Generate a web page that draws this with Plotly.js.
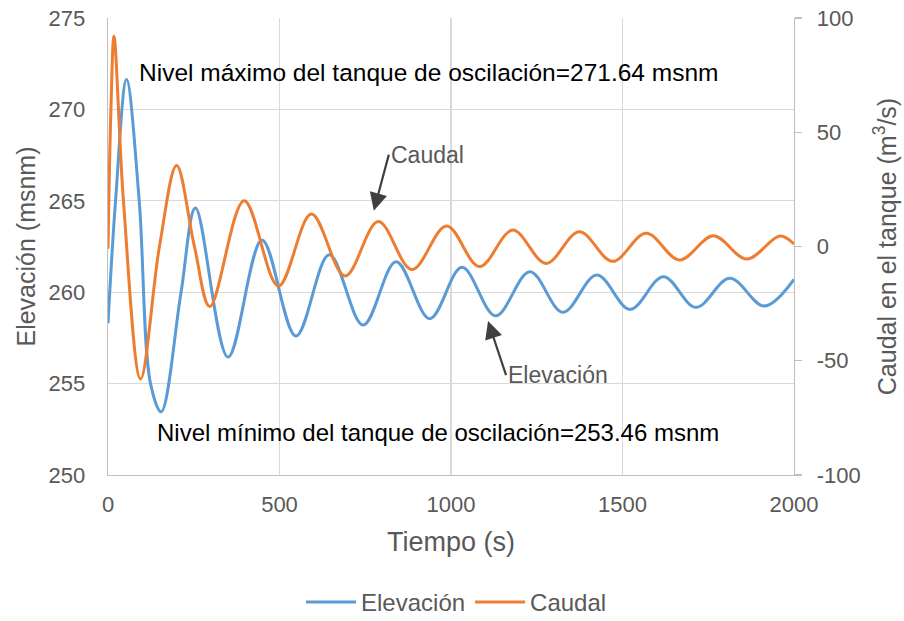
<!DOCTYPE html>
<html>
<head>
<meta charset="utf-8">
<script src="https://cdn.plot.ly/plotly-3.0.1.min.js"></script>
<style>
  html, body { margin: 0; padding: 0; background: #ffffff; }
  #chart { width: 904px; height: 621px; }
</style>
</head>
<body>
<div id="chart"></div>
<script>
// Elevación (msnm) (extrema and a few crossings)
const tiempoElev = [0, 22, 54, 91, 124, 155, 213, 255, 350, 449, 548, 645, 744, 840, 938, 1032, 1130, 1230, 1326, 1425, 1522, 1619, 1714, 1813, 1913, 2000];
const elevacion  = [258.3, 265, 271.64, 265, 255, 253.46, 260, 264.6, 256.45, 262.85, 257.6, 262.05, 258.2, 261.67, 258.55, 261.36, 258.71, 261.12, 258.9, 260.94, 259.06, 260.85, 259.17, 260.76, 259.24, 260.7];

// Caudal en el tanque (m3/s)
const tiempoCaudal = [0, 8.5, 17.5, 45, 95, 150, 200, 252, 297, 397, 497, 593, 691, 788, 886, 987, 1083, 1180, 1277, 1374, 1471, 1569, 1666, 1765, 1862, 1959, 2000];
const caudal       = [-1, 60, 92, 20, -58, 0, 35.4, 0, -26.3, 20, -17.3, 14.2, -12.9, 10.9, -10.1, 9.0, -8.8, 7.2, -7.4, 6.5, -6.5, 5.8, -5.9, 4.7, -5.5, 4.6, 1.1];

const xTicks = [0, 500, 1000, 1500, 2000];
const yTicks = [250, 255, 260, 265, 270, 275];
const y2Ticks = [-100, -50, 0, 50, 100];

const FONT = '"Liberation Sans", Arial, sans-serif';
const GREY = '#595959';

const traces = [
  {
    x: tiempoElev, y: elevacion, name: 'Elevación', type: 'scatter', mode: 'lines',
    line: { color: '#5B9BD5', width: 3, shape: 'spline', smoothing: 1 },
    yaxis: 'y'
  },
  {
    x: tiempoCaudal, y: caudal, name: 'Caudal', type: 'scatter', mode: 'lines',
    line: { color: '#ED7D31', width: 3, shape: 'spline', smoothing: 1 },
    yaxis: 'y2'
  }
];

const layout = {
  width: 904, height: 621,
  margin: { l: 108, r: 110, t: 18, b: 146, autoexpand: false },
  paper_bgcolor: '#ffffff', plot_bgcolor: '#ffffff',
  font: { family: FONT, color: GREY },
  showlegend: true,
  legend: {
    orientation: 'h', xref: 'container', yref: 'container',
    x: 0.505, xanchor: 'center', y: 0.03, yanchor: 'middle',
    itemwidth: 50, tracegroupgap: 0,
    font: { family: FONT, size: 24, color: GREY }
  },
  xaxis: {
    range: [0, 2000], tickvals: xTicks, ticktext: xTicks.map(String),
    showgrid: true, gridcolor: '#d9d9d9', gridwidth: 1.3,
    showline: true, linecolor: '#bfbfbf', linewidth: 1.3,
    zeroline: false, ticks: '', ticklabelstandoff: 9, automargin: false,
    tickfont: { family: FONT, size: 22, color: GREY },
    title: { text: 'Tiempo (s)', font: { family: FONT, size: 27, color: GREY }, standoff: 16 }
  },
  yaxis: {
    range: [250, 275], tickvals: yTicks, ticktext: yTicks.map(String),
    showgrid: true, gridcolor: '#d9d9d9', gridwidth: 1.3,
    showline: true, linecolor: '#bfbfbf', linewidth: 1.3,
    zeroline: false, ticks: '', ticklabelstandoff: 17, automargin: false,
    tickfont: { family: FONT, size: 22, color: GREY },
    title: { text: 'Elevación (msnm)', font: { family: FONT, size: 25, color: GREY }, standoff: 5 }
  },
  yaxis2: {
    range: [-100, 100], tickvals: y2Ticks, ticktext: y2Ticks.map(String),
    overlaying: 'y', side: 'right', automargin: false,
    showgrid: false, showline: true, linecolor: '#bfbfbf', linewidth: 1.3,
    zeroline: false, ticks: 'outside', ticklen: 7, tickcolor: '#bfbfbf', tickwidth: 1.3,
    ticklabelstandoff: 10,
    tickfont: { family: FONT, size: 22, color: GREY },
    title: { text: 'Caudal en el tanque (m<sup>3</sup>/s)', font: { family: FONT, size: 25, color: GREY }, standoff: 18 }
  },
  annotations: [
    {
      xref: 'x', yref: 'y', x: 85, y: 272, xanchor: 'left', yanchor: 'middle',
      text: 'Nivel máximo del tanque de oscilación=271.64 msnm', showarrow: false,
      font: { family: FONT, size: 24.5, color: '#000000' }
    },
    {
      xref: 'x', yref: 'y', x: 137, y: 252.35, xanchor: 'left', yanchor: 'middle',
      text: 'Nivel mínimo del tanque de oscilación=253.46 msnm', showarrow: false,
      font: { family: FONT, size: 24, color: '#000000' }
    },
    {
      xref: 'x', yref: 'y2', x: 775, y: 15.7, xanchor: 'left', yanchor: 'middle',
      text: 'Caudal', showarrow: true,
      ax: 15, ay: -56, arrowhead: 2, arrowsize: 1.6, arrowwidth: 2.2, arrowcolor: '#404040',
      font: { family: FONT, size: 23, color: GREY }
    },
    {
      xref: 'x', yref: 'y', x: 1108, y: 258.42, xanchor: 'left', yanchor: 'middle',
      text: 'Elevación', showarrow: true,
      ax: 18, ay: 54, arrowhead: 2, arrowsize: 1.6, arrowwidth: 2.2, arrowcolor: '#404040',
      font: { family: FONT, size: 23, color: GREY }
    }
  ]
};

Plotly.newPlot('chart', traces, layout, { displayModeBar: false, staticPlot: true });
</script>
</body>
</html>
